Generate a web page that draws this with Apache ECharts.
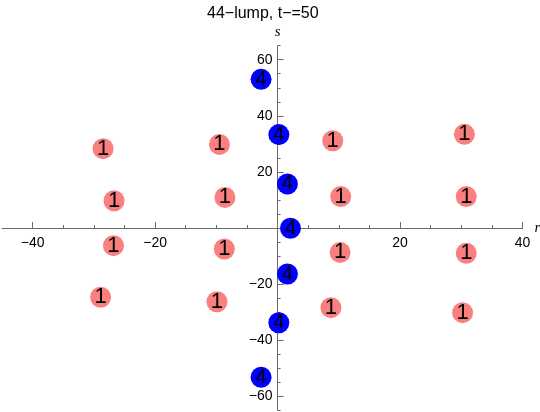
<!DOCTYPE html>
<html>
<head>
<meta charset="utf-8">
<script src="https://cdn.jsdelivr.net/npm/echarts@6/dist/echarts.min.js"></script>
<style>
html,body{margin:0;padding:0;background:#fff;}
#chart{width:540px;height:412px;}
</style>
</head>
<body>
<div id="chart"></div>
<script>
// Data
var titleText = '44\u2212lump, t\u2212=50';
var xTicks = [-40, -20, 20, 40];
var yTicks = [-60, -40, -20, 20, 40, 60];
var blueR = [-2.7, 0.2, 1.6, 2.1, 1.6, 0.2, -2.7];
var blueS = [53.0, 33.3, 15.7, -0.1, -16.4, -33.8, -53.2];
var blueLabel = '4';
var pinkR = [-28.5, -26.7, -26.8, -28.9, -9.5, -8.6, -8.7, -9.9, 9.0, 10.3, 10.2, 8.7, 30.5, 30.8, 30.8, 30.2];
var pinkS = [28.3, 9.7, -6.3, -24.7, 29.8, 10.9, -7.5, -26.3, 31.1, 11.2, -8.7, -28.4, 33.4, 11.2, -9.0, -30.2];
var pinkLabel = '1';

function pairs(a, b) { return a.map(function (v, i) { return [v, b[i]]; }); }
function fmt(v) { return v === 0 ? '' : String(v).replace('-', '\u2212'); }

var xMin = -45, xMax = 40, yMin = -65, yMax = 65;
var G = {left: 2, top: 45.7, width: 520.6, height: 364.6};
// offsets that put the axes through the origin
var xOffBottom = -G.height * (0 - yMin) / (yMax - yMin);
var xOffTop = -G.height * (yMax - 0) / (yMax - yMin);
var yOffLeft = -G.width * (0 - xMin) / (xMax - xMin);
var yOffRight = -G.width * (xMax - 0) / (xMax - xMin);

var axisGray = '#6b6b6b';
var tickFont = {fontFamily: 'Liberation Sans', fontSize: 14, color: '#000'};

var chart = echarts.init(document.getElementById('chart'), null, {renderer: 'canvas'});
chart.setOption({
  animation: false,
  backgroundColor: '#fff',
  title: {
    text: titleText, left: 202, top: 1,
    textStyle: {fontFamily: 'Liberation Sans', fontSize: 16, fontWeight: 'normal', color: '#000'}
  },
  grid: {left: G.left, top: G.top, width: G.width, height: G.height, containLabel: false, outerBoundsMode: 'none'},
  xAxis: [{
    type: 'value', min: xMin, max: xMax, interval: 5, position: 'bottom', offset: xOffBottom,
    name: 'r', nameLocation: 'end', nameGap: 12,
    nameTextStyle: {fontFamily: 'Liberation Serif', fontStyle: 'italic', fontSize: 15, color: '#000', verticalAlign: 'middle'},
    axisLine: {show: true, onZero: false, lineStyle: {color: axisGray, width: 1}},
    axisTick: {show: true, inside: true, length: 3, lineStyle: {color: axisGray}},
    splitLine: {show: false},
    axisLabel: Object.assign({margin: 8, showMinLabel: false, showMaxLabel: true,
      formatter: function (v) { return xTicks.indexOf(v) >= 0 ? fmt(v) : ''; }}, tickFont)
  }, {
    // major ticks overlay
    type: 'value', min: xMin, max: xMax, position: 'top', offset: xOffTop,
    axisLine: {show: false, onZero: false},
    axisTick: {show: true, inside: false, length: 6, customValues: xTicks, lineStyle: {color: axisGray}},
    axisLabel: {show: false}, splitLine: {show: false}
  }],
  yAxis: [{
    type: 'value', min: yMin, max: yMax, interval: 5, position: 'left', offset: yOffLeft,
    name: 's', nameLocation: 'end', nameGap: 6,
    nameTextStyle: {fontFamily: 'Liberation Serif', fontStyle: 'italic', fontSize: 15, color: '#000', align: 'center'},
    axisLine: {show: true, onZero: false, lineStyle: {color: axisGray, width: 1}},
    axisTick: {show: true, inside: true, length: 3, lineStyle: {color: axisGray}},
    splitLine: {show: false},
    axisLabel: Object.assign({margin: 5,
      formatter: function (v) { return yTicks.indexOf(v) >= 0 ? fmt(v) : ''; }}, tickFont)
  }, {
    type: 'value', min: yMin, max: yMax, position: 'right', offset: yOffRight,
    axisLine: {show: false, onZero: false},
    axisTick: {show: true, inside: false, length: 6, customValues: yTicks, lineStyle: {color: axisGray}},
    axisLabel: {show: false}, splitLine: {show: false}
  }],
  series: [
    {
      type: 'scatter', xAxisIndex: 0, yAxisIndex: 0, data: pairs(pinkR, pinkS), symbol: 'circle', symbolSize: 21,
      itemStyle: {color: 'rgb(250,128,128)', opacity: 1},
      label: {show: true, position: 'inside', formatter: pinkLabel, fontFamily: 'Liberation Sans', fontSize: 22, color: '#000'}
    },
    {
      type: 'scatter', xAxisIndex: 0, yAxisIndex: 0, data: pairs(blueR, blueS), symbol: 'circle', symbolSize: 21,
      itemStyle: {color: '#0000ff', opacity: 1},
      label: {show: true, position: 'inside', formatter: blueLabel, fontFamily: 'Liberation Sans', fontSize: 20, color: '#000'}
    }
  ]
});
</script>
</body>
</html>
